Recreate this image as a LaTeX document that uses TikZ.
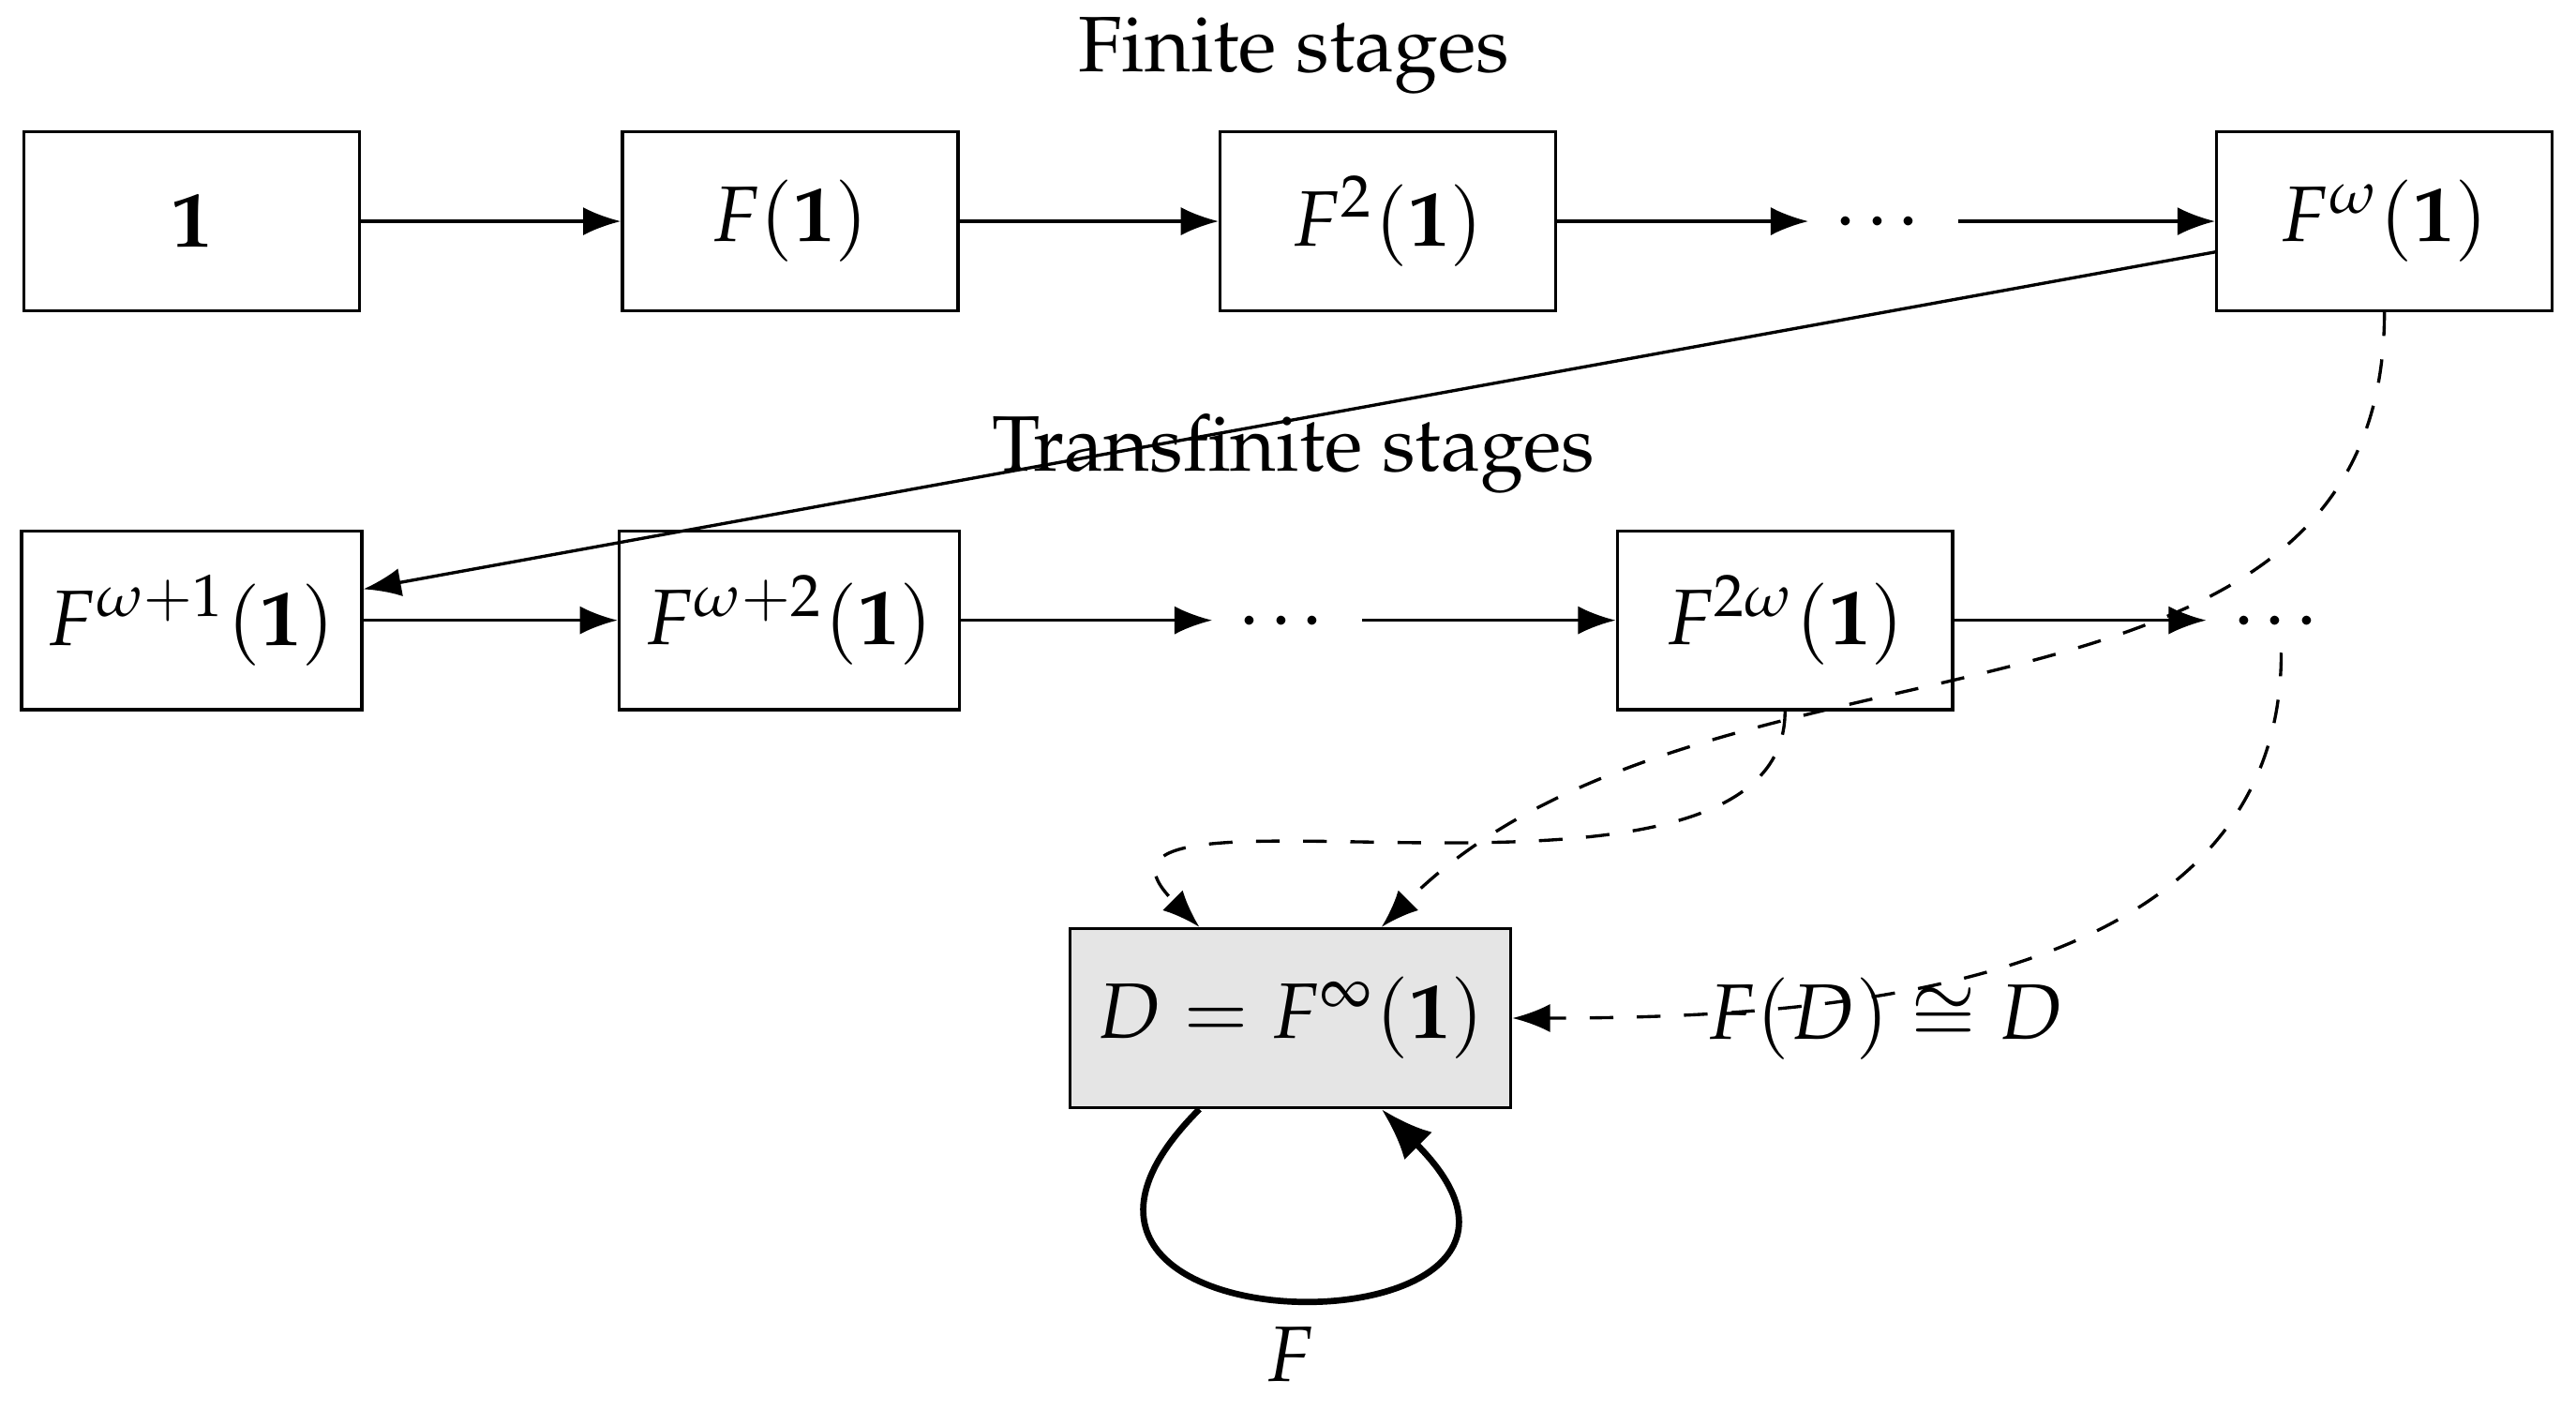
\documentclass[tikz,border=0pt]{standalone}
\usepackage[T1]{fontenc}
\usepackage{mathpazo}
\renewcommand{\rmdefault}{ppl}
\usetikzlibrary{arrows.meta}
\begin{document}
\begin{tikzpicture}[x=0.21008pt,y=-0.21008pt,
  box/.style={draw, minimum width=1.5cm, minimum height=0.8cm, inner sep=0.333em},
  dotsn/.style={inner sep=0.333em},
  arr/.style={-{Latex}},
  darr/.style={-{Latex}, dashed},
  loopArr/.style={-{Latex}, thick}]
\useasboundingbox (0,0) rectangle (1560,853.8);
% titles
\node[anchor=base] (t1) at (783.5,43.5) {Finite stages};
\node[anchor=base] (t2) at (783.5,285) {Transfinite stages};
% row 1
\node[box] (n1)  at (116,134)    {$\mathbf{1}$};
\node[box] (F1)  at (478.5,134)  {$F(\mathbf{1})$};
\node[box] (F2)  at (840.5,134)  {$F^2(\mathbf{1})$};
\node[dotsn] (d1) at (1140.5,134) {\dots};
\node[box] (Fw)  at (1444,134)   {$F^\omega(\mathbf{1})$};
% row 2
\node[box] (Fw1) at (116,375.6)  {$F^{\omega+1}(\mathbf{1})$};
\node[box] (Fw2) at (478,375.6)  {$F^{\omega+2}(\mathbf{1})$};
\node[dotsn] (d2) at (779.5,375.6) {\dots};
\node[box] (F2w) at (1081,375.6) {$F^{2\omega}(\mathbf{1})$};
\node[dotsn] (d3) at (1381.5,375.6) {\dots};
% limit
\node[box, fill=black!10] (D) at (781.5,616.5) {$D = F^\infty(\mathbf{1})$};
\node (lab) at (1142,617) {$F(D) \cong D$};
% connectors
\draw[arr] (n1) -- (F1);
\draw[arr] (F1) -- (F2);
\draw[arr] (F2) -- (d1);
\draw[arr] (d1) -- (Fw);
\draw[arr] (Fw) -- (Fw1);
\draw[arr] (Fw1) -- (Fw2);
\draw[arr] (Fw2) -- (d2);
\draw[arr] (d2) -- (F2w);
\draw[arr] (F2w) -- (d3);
\draw[darr] (Fw.south) to[out=-90,in=45] (D.45);
\draw[darr] (F2w.south) to[out=-90,in=135] (D.135);
\draw[darr] (d3.south) to[out=-90,in=0] (D.east);
\draw[loopArr] (D.-135) to[out=-135,in=-45,looseness=5] node[below] (Flab) {$F$} (D.-45);
\end{tikzpicture}
\end{document}
